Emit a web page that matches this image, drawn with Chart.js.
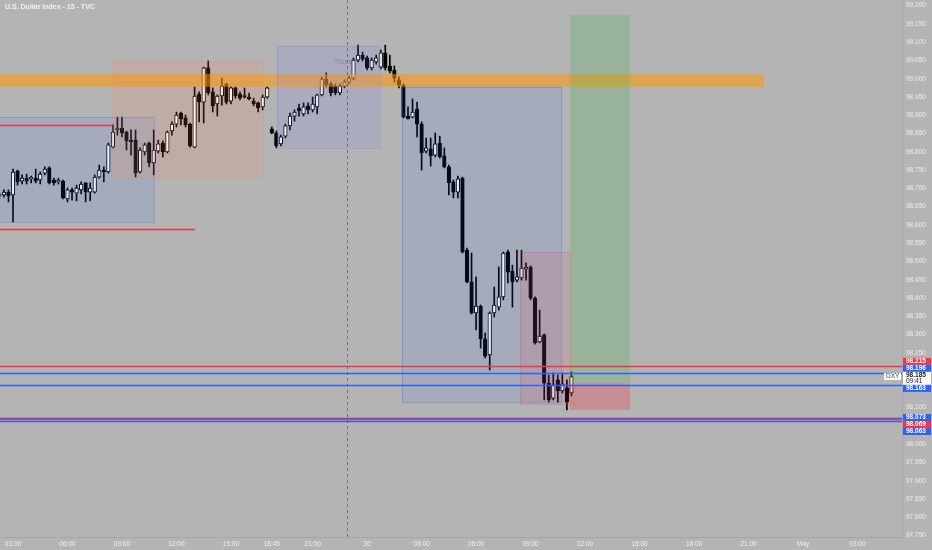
<!DOCTYPE html>
<html><head><meta charset="utf-8">
<script src="https://cdn.jsdelivr.net/npm/chart.js@4.4.1/dist/chart.umd.min.js"></script>
<style>
html,body{margin:0;padding:0;background:#b4b4b4;overflow:hidden;}
#wrap{position:relative;width:932px;height:550px;}
#title{position:absolute;left:5px;top:3px;font:bold 7px 'Liberation Sans',sans-serif;color:#f2f2f2;white-space:nowrap;}
</style></head><body>
<div id="wrap"><canvas id="c" width="932" height="550"></canvas><div id="title">U.S. Dollar Index - 15 - TVC</div></div>
<script>
// ---- data (15-minute candles, first bar index = -3 relative to 03:00) ----
const firstBar = -3;
const opens = [
98.679,98.682,98.690,98.682,98.748,98.720,98.728,98.726,98.728,98.723,
98.742,98.756,98.723,98.718,98.720,98.671,98.696,98.687,98.696,98.715,
98.690,98.690,98.731,98.750,98.745,98.813,98.860,98.865,98.854,98.832,
98.832,98.745,98.800,98.824,98.770,98.802,98.824,98.800,98.857,98.876,
98.906,98.893,98.876,98.813,98.958,98.936,99.030,98.964,98.931,98.953,
98.986,98.939,98.975,98.958,98.953,98.950,98.939,98.934,98.923,98.950,
98.863,98.852,98.822,98.843,98.871,98.898,98.920,98.904,98.926,98.915,
98.923,98.956,98.999,98.986,98.980,98.961,98.980,98.991,99.002,99.051,
99.065,99.057,99.030,99.046,99.032,99.071,99.035,99.024,98.997,98.983,
98.898,98.895,98.917,98.876,98.802,98.808,98.791,98.824,98.789,98.759,
98.718,98.690,98.728,98.531,98.444,98.359,98.378,98.288,98.244,98.359,
98.375,98.403,98.526,98.474,98.449,98.455,98.479,98.485,98.400,98.280,
98.299,98.167,98.126,98.176,98.146,98.154,98.140];
const highs = [
98.687,98.696,98.696,98.753,98.750,98.737,98.739,98.734,98.753,98.745,
98.759,98.759,98.728,98.728,98.723,98.701,98.701,98.709,98.718,98.716,
98.715,98.737,98.764,98.759,98.824,98.874,98.895,98.895,98.857,98.860,
98.860,98.811,98.824,98.827,98.860,98.832,98.830,98.857,98.882,98.909,
98.909,98.901,98.879,98.978,98.964,99.032,99.049,98.975,98.956,99.002,
98.988,98.978,98.978,98.964,98.975,98.961,98.947,98.936,98.956,98.978,
98.868,98.857,98.846,98.876,98.906,98.915,98.931,98.934,98.934,98.950,
98.958,99.005,99.016,98.991,98.986,98.986,98.997,99.008,99.057,99.092,
99.073,99.062,99.057,99.065,99.079,99.092,99.065,99.035,99.005,98.986,
98.923,98.945,98.936,98.882,98.838,98.838,98.852,98.843,98.811,98.764,
98.723,98.734,98.731,98.537,98.523,98.458,98.381,98.304,98.362,98.430,
98.485,98.526,98.531,98.490,98.531,98.531,98.496,98.488,98.403,98.367,
98.302,98.189,98.195,98.189,98.195,98.176,98.198];
const lows = [
98.671,98.676,98.663,98.608,98.709,98.712,98.712,98.715,98.715,98.712,
98.737,98.712,98.709,98.712,98.671,98.663,98.668,98.666,98.685,98.663,
98.666,98.687,98.728,98.718,98.742,98.811,98.846,98.841,98.805,98.791,
98.731,98.742,98.791,98.759,98.737,98.797,98.786,98.797,98.846,98.868,
98.874,98.868,98.813,98.811,98.882,98.879,98.956,98.909,98.898,98.928,
98.931,98.931,98.947,98.942,98.947,98.942,98.926,98.909,98.915,98.947,
98.849,98.811,98.816,98.838,98.860,98.884,98.898,98.898,98.904,98.909,
98.904,98.953,98.978,98.953,98.956,98.956,98.975,98.986,98.997,99.046,
99.049,99.024,99.024,99.040,99.027,99.024,99.016,98.991,98.975,98.893,
98.890,98.893,98.841,98.750,98.797,98.761,98.786,98.783,98.756,98.682,
98.674,98.674,98.523,98.441,98.356,98.313,98.263,98.236,98.203,98.348,
98.367,98.395,98.441,98.375,98.444,98.449,98.449,98.395,98.274,98.277,
98.121,98.115,98.121,98.115,98.140,98.094,98.132];
const closes = [
98.682,98.690,98.679,98.745,98.718,98.728,98.720,98.728,98.720,98.739,
98.753,98.715,98.715,98.720,98.674,98.696,98.690,98.701,98.712,98.690,
98.701,98.731,98.750,98.745,98.819,98.854,98.865,98.852,98.830,98.827,
98.742,98.805,98.819,98.770,98.805,98.822,98.800,98.854,98.876,98.901,
98.890,98.874,98.816,98.953,98.936,99.030,98.961,98.926,98.953,98.980,
98.936,98.975,98.953,98.947,98.950,98.945,98.931,98.920,98.950,98.975,
98.852,98.816,98.841,98.871,98.898,98.909,98.912,98.923,98.915,98.931,
98.956,98.999,98.983,98.961,98.961,98.980,98.991,99.002,99.051,99.065,
99.054,99.030,99.051,99.057,99.071,99.030,99.021,99.002,98.983,98.895,
98.890,98.909,98.876,98.797,98.811,98.789,98.822,98.786,98.759,98.715,
98.690,98.726,98.526,98.444,98.359,98.378,98.288,98.241,98.359,98.381,
98.403,98.523,98.471,98.444,98.458,98.482,98.485,98.400,98.277,98.296,
98.167,98.121,98.162,98.146,98.165,98.115,98.185];

// time axis ticks (bar index -> label)
const timeTickIdx = [0,12,24,36,48,57,66,78,90,102,114,126,138,150,162,174,186];
const timeTickText = ['03:00','06:00','09:00','12:00','15:00','18:45','21:00','30','03:00','06:00','09:00','12:00','15:00','18:00','21:00','May','03:00'];

// horizontal price levels shown on the price scale
const levelPrices = [98.215, 98.196, 98.163, 98.073, 98.069, 98.063];
const levelKinds  = ['red','blue','blue','blue','red','blue'];
const lastPrice = 98.185;
const lastCountdown = '09:41';
const symbol = 'DXY';
const hiddenTicks = ['98.200','98.150','98.050'];

// short red levels on the left (price, end bar)
const shortLevelPrices = [98.873, 98.589];
const shortLevelEnds = [21.8, 40.1];

// drawn zones: [startBar, endBar, topPrice, bottomPrice]
const zoneOrange = [-3, 165.4, 99.013, 98.978];
const zoneBlueLeft = [-3, 31.06, 98.895, 98.608];
const zonePeach = [21.8, 55.07, 99.049, 98.731];
const zonePurple = [58.15, 80.8, 99.090, 98.811];
const zoneBlueBig = [85.7, 120.7, 98.978, 98.115];
const zonePink = [111.7, 122.7, 98.526, 98.110];
const zoneTarget = [122.7, 135.9, 99.175, 98.167];
const zoneStop = [122.7, 135.9, 98.167, 98.094];
const sessionBreakBar = 73.57;
const noteText = 'Thurs';
const notePos = [70.7, 99.047];

// ---- styles ----
const COL = {red:'#f23645', blue:'#2962ff'};
const zoneStyles = [
  [zoneOrange, 'rgba(255,152,0,0.55)', null],
  [zoneBlueLeft, 'rgba(41,98,255,0.10)', 'rgba(41,98,255,0.30)'],
  [zonePeach, 'rgba(255,130,60,0.13)', 'rgba(255,130,60,0.25)'],
  [zonePurple, 'rgba(120,123,255,0.14)', 'rgba(120,123,255,0.30)'],
  [zoneBlueBig, 'rgba(41,98,255,0.10)', 'rgba(41,98,255,0.30)'],
  [zonePink, 'rgba(242,54,69,0.12)', 'rgba(242,54,69,0.25)'],
  [zoneTarget, 'rgba(76,175,80,0.25)', null],
  [zoneStop, 'rgba(242,54,69,0.30)', null]
];

const wickData = opens.map((o,k)=>({x:k+firstBar, y:[lows[k], highs[k]]}));
const bodyData = opens.map((o,k)=>({x:k+firstBar, y:[o, closes[k]]}));
const isUp = k => closes[k] >= opens[k];

const drawings = {
  id:'drawings',
  beforeDatasetsDraw(chart){
    const {ctx, scales:{x,y}} = chart;
    ctx.save();
    ctx.fillStyle='rgba(130,130,130,0.9)';
    ctx.font='7px "Liberation Sans"';
    ctx.textBaseline='middle';
    ctx.fillText(noteText, x.getPixelForValue(notePos[0]), y.getPixelForValue(notePos[1]));
    ctx.restore();
  },
  afterDatasetsDraw(chart){
    const {ctx, scales:{x,y}, chartArea:a} = chart;
    ctx.save();
    ctx.beginPath(); ctx.rect(a.left,a.top,a.right-a.left,a.bottom-a.top); ctx.clip();
    zoneStyles.forEach(([z,fill,line])=>{
      const x0=x.getPixelForValue(z[0]), x1=x.getPixelForValue(z[1]);
      const y0=y.getPixelForValue(z[2]), y1=y.getPixelForValue(z[3]);
      ctx.fillStyle=fill; ctx.fillRect(x0,y0,x1-x0,y1-y0);
      if(line){ctx.strokeStyle=line; ctx.lineWidth=1; ctx.strokeRect(Math.round(x0)+0.5,Math.round(y0)+0.5,Math.round(x1-x0),Math.round(y1-y0));}
    });
    // short red levels
    ctx.lineWidth=1.5;
    shortLevelPrices.forEach((p,k)=>{
      const yy=Math.round(y.getPixelForValue(p))+0.5;
      ctx.strokeStyle=COL.red; ctx.beginPath(); ctx.moveTo(a.left,yy); ctx.lineTo(x.getPixelForValue(shortLevelEnds[k]),yy); ctx.stroke();
    });
    // full-width levels
    levelPrices.forEach((p,k)=>{
      const yy=Math.round(y.getPixelForValue(p))+0.5;
      ctx.strokeStyle=COL[levelKinds[k]]; ctx.beginPath(); ctx.moveTo(a.left,yy); ctx.lineTo(a.right,yy); ctx.stroke();
    });
    // session break
    ctx.lineWidth=1;
    const bx=Math.round(x.getPixelForValue(sessionBreakBar))+0.5;
    ctx.strokeStyle='rgba(95,95,95,0.8)'; ctx.setLineDash([3,3]);
    ctx.beginPath(); ctx.moveTo(bx,a.top); ctx.lineTo(bx,a.bottom); ctx.stroke();
    ctx.restore();
  },
  afterDraw(chart){
    const {ctx, scales:{y}, chartArea:a} = chart;
    const items = levelPrices.map((p,k)=>({p, bg:COL[levelKinds[k]], fg:'#ffffff', h:7, yc:y.getPixelForValue(p)}));
    items.push({p:lastPrice, bg:'#ffffff', fg:'#131722', h:13, yc:y.getPixelForValue(lastPrice), cur:true});
    items.sort((u,v)=>u.yc-v.yc);
    let groups = items.map(it=>({items:[it]}));
    const layout = g=>{
      g.h=g.items.reduce((s,i)=>s+i.h,0);
      const hasCur=g.items.some(i=>i.cur);
      g.top = hasCur ? g.items.reduce((s,i)=>s+i.yc,0)/g.items.length-g.h/2
                     : g.items[0].yc-g.items[0].h/2;
    };
    groups.forEach(layout);
    let merged=true;
    while(merged){
      merged=false;
      for(let i=0;i<groups.length-1;i++){
        if(groups[i].top+groups[i].h>groups[i+1].top){
          groups[i].items=groups[i].items.concat(groups[i+1].items); groups.splice(i+1,1); layout(groups[i]); merged=true; break;
        }
      }
    }
    ctx.save();
    ctx.textBaseline='middle';
    groups.forEach(g=>{
      let t=g.top;
      g.items.forEach(it=>{
        ctx.fillStyle=it.bg; ctx.fillRect(a.right+1,t,28,it.h);
        ctx.fillStyle=it.fg; ctx.font='bold 6.5px "Liberation Sans"';
        if(it.cur){
          ctx.fillText(it.p.toFixed(3), a.right+4, t+3.5);
          ctx.font='6.5px "Liberation Sans"';
          ctx.fillText(lastCountdown, a.right+4, t+9.5);
          ctx.fillStyle='#ffffff'; ctx.fillRect(a.right-18,t+1,17,7);
          ctx.fillStyle='#444'; ctx.font='6.5px "Liberation Sans"';
          ctx.fillText(symbol, a.right-16, t+4.5);
        } else {
          ctx.fillText(it.p.toFixed(3), a.right+4, t+it.h/2);
        }
        t+=it.h;
      });
    });
    ctx.restore();
  }
};

new Chart(document.getElementById('c'), {
  type:'bar',
  data:{datasets:[
    {data:wickData, grouped:false, order:1, barThickness:1, backgroundColor:'#000000', borderWidth:0},
    {data:bodyData, grouped:false, order:0, barThickness:3.6, minBarLength:1.5,
     backgroundColor:c=>isUp(c.dataIndex)?'#ffffff':'#000000', borderColor:'#000000', borderWidth:1, borderSkipped:false}
  ]},
  options:{
    responsive:false, animation:false,
    layout:{padding:0},
    plugins:{legend:{display:false}, tooltip:{enabled:false}, title:{display:false}},
    scales:{
      x:{type:'linear', min:-2.863, max:195.81, offset:false,
         grid:{display:false, drawTicks:false}, border:{color:'#a6a6a6'},
         afterBuildTicks(s){s.ticks=timeTickIdx.map(v=>({value:v}));},
         ticks:{autoSkip:false, maxRotation:0, color:'#efefef', font:{size:6.5, family:'Liberation Sans'}, padding:3,
                callback:(v,i)=>timeTickText[i]},
         afterFit(s){s.height=13; s.paddingLeft=0; s.paddingRight=0; s.paddingTop=0; s.paddingBottom=0;}},
      y:{position:'right', min:97.746, max:99.2156, beginAtZero:false,
         grid:{display:false, drawTicks:false}, border:{color:'#a6a6a6'},
         ticks:{stepSize:0.05, includeBounds:false, color:'#efefef', font:{size:6.5, family:'Liberation Sans'}, padding:4,
                callback:v=>{const s=Number(v).toFixed(3); return hiddenTicks.includes(s)?'':s;}},
         afterFit(s){s.width=30; s.paddingTop=0; s.paddingBottom=0; s.paddingLeft=0; s.paddingRight=0;}}
    }
  },
  plugins:[drawings]
});
</script>
</body></html>
